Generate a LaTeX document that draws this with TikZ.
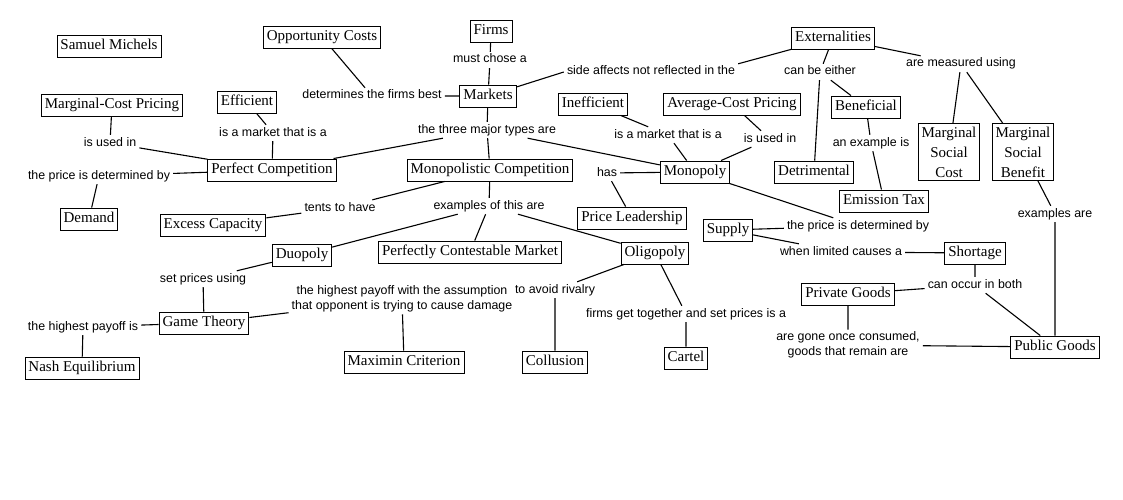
\documentclass[tikz,border=0pt]{standalone}
\usepackage{fontspec}
\setmainfont{Liberation Serif}
\newfontfamily\lblfont{Liberation Sans}
\begin{document}
\begin{tikzpicture}[x=1pt,y=-1pt,
  box/.style={draw,line width=0.9pt,inner xsep=3.5pt,inner ysep=3.5pt,
    font=\fontsize{15}{18}\selectfont,text height=11pt,text depth=4pt},
  box3/.style={draw,line width=0.9pt,inner xsep=2pt,inner ysep=3pt,align=center,
    minimum width=61pt,font=\fontsize{15}{20}\selectfont},
  lbl/.style={inner xsep=3pt,inner ysep=2pt,font=\lblfont\fontsize{12.4}{15}\selectfont,
    text height=9pt,text depth=3pt},
  lbl2/.style={inner xsep=3pt,inner ysep=2pt,align=center,font=\lblfont\fontsize{12.4}{15}\selectfont},
  conn/.style={draw,line width=1.1pt}]
\useasboundingbox (0,0) rectangle (1123,500);
% concepts
\node[box] (sam) at (109,46) {Samuel Michels};
\node[box] (opp) at (322,37) {Opportunity Costs};
\node[box] (firms) at (491,31) {Firms};
\node[box] (mkts) at (488,96) {Markets};
\node[box] (ext) at (833,38) {Externalities};
\node[box] (mcp) at (112,105) {Marginal-Cost Pricing};
\node[box] (eff) at (247,102) {Efficient};
\node[box] (ineff) at (593,104) {Inefficient};
\node[box] (acp) at (732,104) {Average-Cost Pricing};
\node[box] (ben) at (866,107) {Beneficial};
\node[box3] (msc) at (949,152) {Marginal\\Social\\Cost};
\node[box3] (msb) at (1023,152) {Marginal\\Social\\Benefit};
\node[box] (pc) at (272,170) {Perfect Competition};
\node[box] (mc) at (490,170) {Monopolistic Competition};
\node[box] (mono) at (695,172) {Monopoly};
\node[box] (det) at (814,172) {Detrimental};
\node[box] (etax) at (884,201) {Emission Tax};
\node[box] (dem) at (89,219) {Demand};
\node[box] (exc) at (213,225) {Excess Capacity};
\node[box] (pl) at (632,218) {Price Leadership};
\node[box] (sup) at (728,230) {Supply};
\node[box] (short) at (975,253) {Shortage};
\node[box] (duo) at (302,255) {Duopoly};
\node[box] (pcm) at (470,252) {Perfectly Contestable Market};
\node[box] (oli) at (655,253) {Oligopoly};
\node[box] (priv) at (848,294) {Private Goods};
\node[box] (game) at (204,323) {Game Theory};
\node[box] (pub) at (1055,347) {Public Goods};
\node[box] (nash) at (82,368) {Nash Equilibrium};
\node[box] (maxi) at (404,362) {Maximin Criterion};
\node[box] (coll) at (555,362) {Collusion};
\node[box] (cart) at (686,358) {Cartel};
% linking phrases
\node[lbl] (l1) at (490,60) {must chose a};
\node[lbl] (l2) at (372,96) {determines the firms best};
\node[lbl] (l3) at (651,72) {side affects not reflected in the};
\node[lbl] (l4) at (820,72) {can be either};
\node[lbl] (l5) at (961,64) {are measured using};
\node[lbl] (l6) at (110,143) {is used in};
\node[lbl] (l7) at (273,133) {is a market that is a};
\node[lbl] (l8) at (487,130) {the three major types are};
\node[lbl] (l9) at (668,135) {is a market that is a};
\node[lbl] (l10) at (770,139) {is used in};
\node[lbl] (l11) at (871,143) {an example is};
\node[lbl] (l12) at (99,176) {the price is determined by};
\node[lbl] (l13) at (607,173) {has};
\node[lbl] (l14) at (340,208) {tents to have};
\node[lbl] (l15) at (489,206) {examples of this are};
\node[lbl] (l16) at (858,226) {the price is determined by};
\node[lbl] (l17) at (841,252) {when limited causes a};
\node[lbl] (l18) at (1055,214) {examples are};
\node[lbl] (l19) at (203,279) {set prices using};
\node[lbl2] (l20) at (402,299) {the highest payoff with the assumption\\that opponent is trying to cause damage};
\node[lbl] (l21) at (555,290) {to avoid rivalry};
\node[lbl] (l22) at (686,314) {firms get together and set prices is a};
\node[lbl] (l23) at (975,285) {can occur in both};
\node[lbl] (l24) at (83,327) {the highest payoff is};
\node[lbl2] (l25) at (848,345) {are gone once consumed,\\goods that remain are};
% connectors
\path[conn] (opp) -- (l2) -- (mkts);
\path[conn] (firms) -- (l1) -- (mkts);
\path[conn] (mkts) -- (l3.west);
\path[conn] (l3.north east) -- (ext);
\path[conn] (ext) -- (l4) -- (det);
\path[conn] (l4) -- (ben);
\path[conn] (ext) -- (l5) -- (msc);
\path[conn] (l5) -- (msb);
\path[conn] (mkts) -- (l8) -- (pc);
\path[conn] (l8) -- (mc);
\path[conn] (l8) -- (mono);
\path[conn] (mcp) -- (l6) -- (pc);
\path[conn] (eff) -- (l7) -- (pc);
\path[conn] (pc) -- (l12) -- (dem);
\path[conn] (ineff) -- (l9) -- (mono);
\path[conn] (acp) -- (l10) -- (mono);
\path[conn] (mono) -- (l13) -- (pl);
\path[conn] (mono) -- (l16) -- (sup);
\path[conn] (sup) -- (l17) -- (short);
\path[conn] (ben) -- (l11) -- (etax);
\path[conn] (msb) -- (l18) -- (pub);
\path[conn] (short) -- (l23) -- (priv);
\path[conn] (l23) -- (pub);
\path[conn] (priv) -- (l25) -- (pub);
\path[conn] (mc) -- (l14) -- (exc);
\path[conn] (mc) -- (l15) -- (duo);
\path[conn] (l15) -- (pcm);
\path[conn] (l15) -- (oli);
\path[conn] (duo) -- (l19) -- (game);
\path[conn] (game) -- (l24) -- (nash);
\path[conn] (game) -- (l20) -- (maxi);
\path[conn] (oli) -- (l21) -- (coll);
\path[conn] (oli) -- (l22) -- (cart);
\end{tikzpicture}
\end{document}
